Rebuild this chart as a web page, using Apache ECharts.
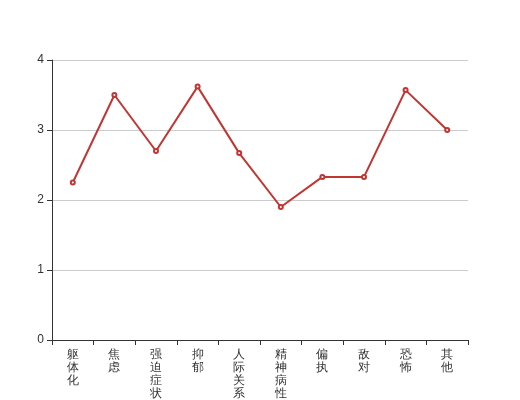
<!DOCTYPE html>
<html>
<head>
<meta charset="utf-8">
<script src="https://cdn.jsdelivr.net/npm/echarts@6/dist/echarts.min.js"></script>
<style>
  html, body { margin: 0; padding: 0; background: #fff; }
  #chart { width: 520px; height: 400px; }
</style>
</head>
<body>
<div id="chart"></div>
<script>
const categories = ['躯体化', '焦虑', '强迫症状', '抑郁', '人际关系敏感', '精神病性', '偏执', '敌对', '恐怖', '其他']
const scores = [2.25, 3.5, 2.7, 3.62, 2.67, 1.9, 2.33, 2.33, 3.57, 3.0]

const chart = echarts.init(document.getElementById('chart'))

const option = {
  animation: false,
  grid: { left: 52, right: 52, top: 60, bottom: 60, containLabel: false, outerBoundsMode: 'none' },
  xAxis: {
    type: 'category',
    data: categories,
    axisLine: { lineStyle: { color: '#333' } },
    axisTick: { show: true, lineStyle: { color: '#333' } },
    axisLabel: {
      color: '#333',
      fontSize: 12,
      lineHeight: 13,
      interval: 0,
      formatter: v => v.split('').join('\n')
    }
  },
  yAxis: {
    type: 'value',
    min: 0,
    max: 4,
    interval: 1,
    axisLine: { show: true, lineStyle: { color: '#333' } },
    axisTick: { show: true, lineStyle: { color: '#333' } },
    axisLabel: { color: '#333', fontSize: 12 },
    splitLine: { lineStyle: { color: '#ccc' } }
  },
  series: [{
    type: 'line',
    data: scores,
    symbol: 'emptyCircle',
    symbolSize: 4,
    lineStyle: { color: '#c23531', width: 2 },
    itemStyle: { color: '#c23531' }
  }]
}

chart.setOption(option)
</script>
</body>
</html>
